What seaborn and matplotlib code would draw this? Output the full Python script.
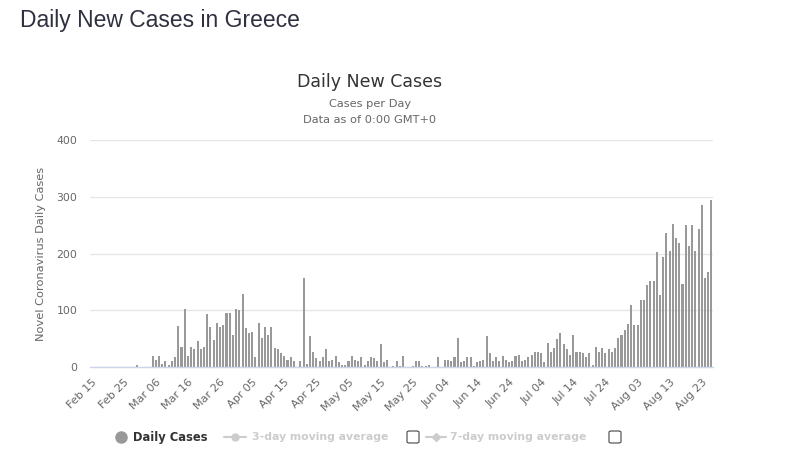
import numpy as np
import pandas as pd
import matplotlib
matplotlib.use("Agg")
import matplotlib.pyplot as plt
import seaborn as sns
from matplotlib.lines import Line2D
from matplotlib.patches import FancyBboxPatch

# ---------------- data ----------------
dates = pd.date_range("2020-02-15", "2020-08-26")
date_labels = [d.strftime("%b %d") for d in dates]

feb_cases = [0, 0, 0, 0, 0, 0, 0, 0, 0, 0, 0, 0, 0, 0, 3]
mar_cases = [0, 0, 0, 0, 20, 13, 20, 6, 10, 4, 10, 17, 72, 36, 102, 20, 35, 31, 45, 31,
             35, 93, 70, 47, 77, 70, 74, 95, 95, 56, 102]
apr_cases = [100, 129, 68, 60, 61, 18, 77, 51, 70, 56, 70, 33, 31, 24, 20, 13, 17, 10, 0, 10,
             156, 6, 54, 26, 15, 10, 17, 31, 10, 13]
may_cases = [20, 8, 4, 4, 10, 20, 13, 11, 18, 4, 10, 17, 15, 10, 40, 8, 13, 0, 2, 10,
             2, 20, 0, 0, 2, 10, 10, 2, 2, 4, 0]
jun_cases = [0, 18, 0, 13, 13, 11, 17, 51, 8, 10, 18, 18, 2, 8, 11, 13, 54, 24, 10, 18,
             10, 20, 13, 8, 10, 20, 22, 10, 13, 18]
jul_cases = [22, 26, 27, 24, 8, 42, 26, 33, 49, 60, 40, 31, 22, 56, 26, 27, 24, 18, 24, 4,
             35, 27, 33, 24, 31, 26, 33, 51, 56, 65, 76]
aug_cases = [110, 74, 74, 118, 118, 145, 151, 151, 202, 126, 193, 236, 204, 252, 227, 218,
             147, 251, 213, 251, 204, 243, 285, 156, 168, 295]

daily_cases = feb_cases + mar_cases + apr_cases + may_cases + jun_cases + jul_cases + aug_cases
y_ticks = [0, 100, 200, 300, 400]

df = pd.DataFrame({"date": date_labels, "cases": daily_cases})

# ---------------- figure ----------------
sns.set_theme(style="white")
plt.rcParams["font.family"] = ["DejaVu Sans"]

W, H = 802, 468
fig = plt.figure(figsize=(W / 100, H / 100), dpi=100)
fig.patch.set_facecolor("white")

def fx(px):
    return px / W

def fy(py):
    return 1 - py / H

ax = fig.add_axes([fx(90), fy(367), fx(713) - fx(90), fy(140) - fy(367)])
sns.barplot(data=df, x="date", y="cases", order=date_labels, color="#999999",
            saturation=1, width=0.64, ax=ax, errorbar=None, linewidth=0)
for p in ax.patches:
    p.set_antialiased(False)

ax.set_xlim(-0.5, len(date_labels) - 0.5)
ax.set_ylim(0, 400)
ax.set_yticks(y_ticks)
ax.set_yticklabels([str(v) for v in y_ticks])
ax.yaxis.grid(True, color="#e6e6e6", lw=1)
ax.xaxis.grid(False)
ax.set_axisbelow(True)
for s in ["top", "right", "left"]:
    ax.spines[s].set_visible(False)
ax.spines["bottom"].set_color("#ccd6eb")
ax.spines["bottom"].set_linewidth(1)

tick_idx = list(range(0, len(date_labels), 10))
ax.set_xticks(tick_idx)
ax.set_xticklabels([date_labels[i] for i in tick_idx], rotation=45, ha="right",
                   rotation_mode="anchor", fontsize=8, color="#666666")
ax.tick_params(axis="x", length=0, pad=7)
ax.tick_params(axis="y", length=0, labelsize=7.8, labelcolor="#666666", pad=9)
ax.set_xlabel("")
ax.set_ylabel("Novel Coronavirus Daily Cases", fontsize=8.2, color="#666666", labelpad=8)

# ---------------- titles ----------------
fig.text(fx(20), fy(20), "Daily New Cases in Greece", fontsize=16.5, color="#2f3040",
         family=["Liberation Sans", "DejaVu Sans"], ha="left", va="center")
fig.text(fx(370), fy(82), "Daily New Cases", fontsize=12.5, color="#333333",
         ha="center", va="center")
fig.text(fx(370), fy(104), "Cases per Day", fontsize=8.2, color="#666666",
         ha="center", va="center")
fig.text(fx(370), fy(120), "Data as of 0:00 GMT+0", fontsize=8.2, color="#666666",
         ha="center", va="center")

# ---------------- legend ----------------
ly = fy(437)
fig.add_artist(Line2D([fx(121)], [ly], marker="o", markersize=8, color="#999999",
                      transform=fig.transFigure, linestyle="none"))
fig.text(fx(133), ly, "Daily Cases", fontsize=8.3, fontweight="bold", color="#333333",
         ha="left", va="center")

fig.add_artist(Line2D([fx(224), fx(246)], [ly, ly], color="#cccccc", lw=1.5,
                      transform=fig.transFigure))
fig.add_artist(Line2D([fx(235)], [ly], marker="o", markersize=5, color="#cccccc",
                      transform=fig.transFigure, linestyle="none"))
fig.text(fx(252), ly, "3-day moving average", fontsize=7.8, fontweight="bold",
         color="#cccccc", ha="left", va="center")
fig.add_artist(FancyBboxPatch((fx(407), fy(443)), fx(12), 12 / H,
                              boxstyle="round,pad=0,rounding_size=0.003",
                              transform=fig.transFigure, facecolor="white",
                              edgecolor="#444444", lw=0.8))

fig.add_artist(Line2D([fx(426), fx(446)], [ly, ly], color="#cccccc", lw=1.5,
                      transform=fig.transFigure))
fig.add_artist(Line2D([fx(436)], [ly], marker="D", markersize=4.5, color="#cccccc",
                      transform=fig.transFigure, linestyle="none"))
fig.text(fx(450), ly, "7-day moving average", fontsize=7.8, fontweight="bold",
         color="#cccccc", ha="left", va="center")
fig.add_artist(FancyBboxPatch((fx(609), fy(443)), fx(12), 12 / H,
                              boxstyle="round,pad=0,rounding_size=0.003",
                              transform=fig.transFigure, facecolor="white",
                              edgecolor="#444444", lw=0.8))

fig.savefig("out.png", dpi=100)
